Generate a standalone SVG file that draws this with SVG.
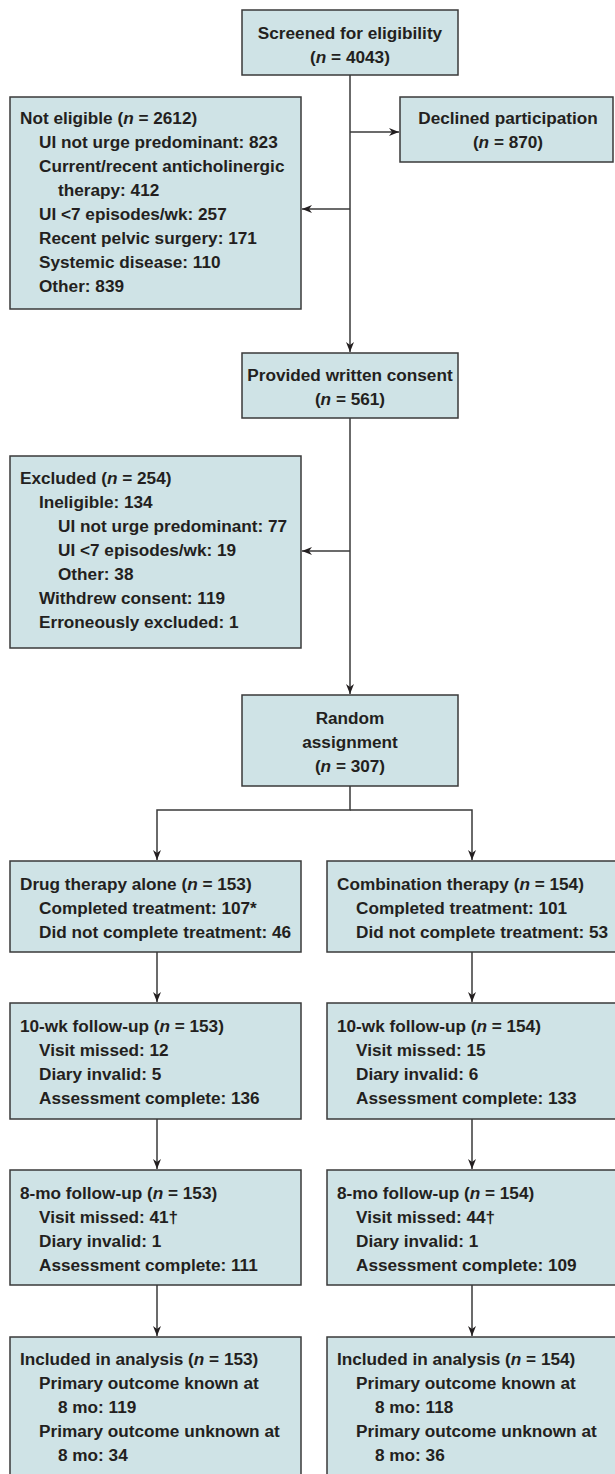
<svg xmlns="http://www.w3.org/2000/svg" width="615" height="1474" viewBox="0 0 615 1474">
<style>
.box{fill:#cfe3e6;stroke:#3a3a3a;stroke-width:1.5}
text{font-family:"Liberation Sans",Arial,sans-serif;font-weight:bold;font-size:17.2px;fill:#231f20}
.c{text-anchor:middle}
.i{font-style:italic}
.ln{fill:none;stroke:#3a3a3a;stroke-width:1.5}
</style>
<defs>
<marker id="ah" markerUnits="userSpaceOnUse" markerWidth="11" markerHeight="9" refX="10" refY="4.5" orient="auto">
<path d="M0,0.5 L10,4.5 L0,8.5 L3,4.5 z" fill="#231f20"/>
</marker>
</defs>
<rect width="615" height="1474" fill="#ffffff"/>
<g id="connectors">
<line class="ln" x1="350" y1="75" x2="350" y2="352" marker-end="url(#ah)"/>
<line class="ln" x1="350" y1="132" x2="399" y2="132" marker-end="url(#ah)"/>
<line class="ln" x1="350" y1="209" x2="302" y2="209" marker-end="url(#ah)"/>
<line class="ln" x1="350" y1="418" x2="350" y2="694" marker-end="url(#ah)"/>
<line class="ln" x1="350" y1="551" x2="302" y2="551" marker-end="url(#ah)"/>
<polyline class="ln" points="350,786 350,810 157,810 157,860" marker-end="url(#ah)"/>
<polyline class="ln" points="350,810 472,810 472,860" marker-end="url(#ah)"/>
<line class="ln" x1="157" y1="952" x2="157" y2="1002" marker-end="url(#ah)"/>
<line class="ln" x1="472" y1="952" x2="472" y2="1002" marker-end="url(#ah)"/>
<line class="ln" x1="157" y1="1119" x2="157" y2="1169" marker-end="url(#ah)"/>
<line class="ln" x1="472" y1="1119" x2="472" y2="1169" marker-end="url(#ah)"/>
<line class="ln" x1="157" y1="1285" x2="157" y2="1336" marker-end="url(#ah)"/>
<line class="ln" x1="472" y1="1285" x2="472" y2="1336" marker-end="url(#ah)"/>
</g>
<g id="screened">
<rect class="box" x="242" y="10" width="216" height="65"/>
<text class="c" x="350" y="39">Screened for eligibility</text>
<text class="c" x="350" y="63">(<tspan class="i">n</tspan> = 4043)</text>
</g>
<g id="not-eligible">
<rect class="box" x="10" y="97" width="291" height="212"/>
<text x="20" y="124">Not eligible (<tspan class="i">n</tspan> = 2612)</text>
<text x="39" y="148">UI not urge predominant: 823</text>
<text x="39" y="172">Current/recent anticholinergic</text>
<text x="58" y="196">therapy: 412</text>
<text x="39" y="220">UI &lt;7 episodes/wk: 257</text>
<text x="39" y="244">Recent pelvic surgery: 171</text>
<text x="39" y="268">Systemic disease: 110</text>
<text x="39" y="292">Other: 839</text>
</g>
<g id="declined">
<rect class="box" x="400" y="97" width="213" height="65"/>
<text class="c" x="508" y="124">Declined participation</text>
<text class="c" x="508" y="148">(<tspan class="i">n</tspan> = 870)</text>
</g>
<g id="consent">
<rect class="box" x="242" y="353" width="216" height="65"/>
<text class="c" x="350" y="381">Provided written consent</text>
<text class="c" x="350" y="405">(<tspan class="i">n</tspan> = 561)</text>
</g>
<g id="excluded">
<rect class="box" x="10" y="456" width="291" height="192"/>
<text x="20" y="484">Excluded (<tspan class="i">n</tspan> = 254)</text>
<text x="39" y="508">Ineligible: 134</text>
<text x="58" y="532">UI not urge predominant: 77</text>
<text x="58" y="556">UI &lt;7 episodes/wk: 19</text>
<text x="58" y="580">Other: 38</text>
<text x="39" y="604">Withdrew consent: 119</text>
<text x="39" y="628">Erroneously excluded: 1</text>
</g>
<g id="random">
<rect class="box" x="242" y="695" width="216" height="91"/>
<text class="c" x="350" y="724">Random</text>
<text class="c" x="350" y="748">assignment</text>
<text class="c" x="350" y="772">(<tspan class="i">n</tspan> = 307)</text>
</g>
<g id="drug">
<rect class="box" x="10" y="861" width="291" height="91"/>
<text x="20" y="890">Drug therapy alone (<tspan class="i">n</tspan> = 153)</text>
<text x="39" y="914">Completed treatment: 107*</text>
<text x="39" y="938">Did not complete treatment: 46</text>
</g>
<g id="combo">
<rect class="box" x="327" y="861" width="292" height="91"/>
<text x="337" y="890">Combination therapy (<tspan class="i">n</tspan> = 154)</text>
<text x="356" y="914">Completed treatment: 101</text>
<text x="356" y="938">Did not complete treatment: 53</text>
</g>
<g id="drug-10wk">
<rect class="box" x="10" y="1003" width="291" height="116"/>
<text x="20" y="1032">10-wk follow-up (<tspan class="i">n</tspan> = 153)</text>
<text x="39" y="1056">Visit missed: 12</text>
<text x="39" y="1080">Diary invalid: 5</text>
<text x="39" y="1104">Assessment complete: 136</text>
</g>
<g id="combo-10wk">
<rect class="box" x="327" y="1003" width="292" height="116"/>
<text x="337" y="1032">10-wk follow-up (<tspan class="i">n</tspan> = 154)</text>
<text x="356" y="1056">Visit missed: 15</text>
<text x="356" y="1080">Diary invalid: 6</text>
<text x="356" y="1104">Assessment complete: 133</text>
</g>
<g id="drug-8mo">
<rect class="box" x="10" y="1170" width="291" height="115"/>
<text x="20" y="1199">8-mo follow-up (<tspan class="i">n</tspan> = 153)</text>
<text x="39" y="1223">Visit missed: 41†</text>
<text x="39" y="1247">Diary invalid: 1</text>
<text x="39" y="1271">Assessment complete: 111</text>
</g>
<g id="combo-8mo">
<rect class="box" x="327" y="1170" width="292" height="115"/>
<text x="337" y="1199">8-mo follow-up (<tspan class="i">n</tspan> = 154)</text>
<text x="356" y="1223">Visit missed: 44†</text>
<text x="356" y="1247">Diary invalid: 1</text>
<text x="356" y="1271">Assessment complete: 109</text>
</g>
<g id="drug-analysis">
<rect class="box" x="10" y="1337" width="291" height="150"/>
<text x="20" y="1365">Included in analysis (<tspan class="i">n</tspan> = 153)</text>
<text x="39" y="1389">Primary outcome known at</text>
<text x="58" y="1413">8 mo: 119</text>
<text x="39" y="1437">Primary outcome unknown at</text>
<text x="58" y="1461">8 mo: 34</text>
</g>
<g id="combo-analysis">
<rect class="box" x="327" y="1337" width="292" height="150"/>
<text x="337" y="1365">Included in analysis (<tspan class="i">n</tspan> = 154)</text>
<text x="356" y="1389">Primary outcome known at</text>
<text x="375" y="1413">8 mo: 118</text>
<text x="356" y="1437">Primary outcome unknown at</text>
<text x="375" y="1461">8 mo: 36</text>
</g>
</svg>
